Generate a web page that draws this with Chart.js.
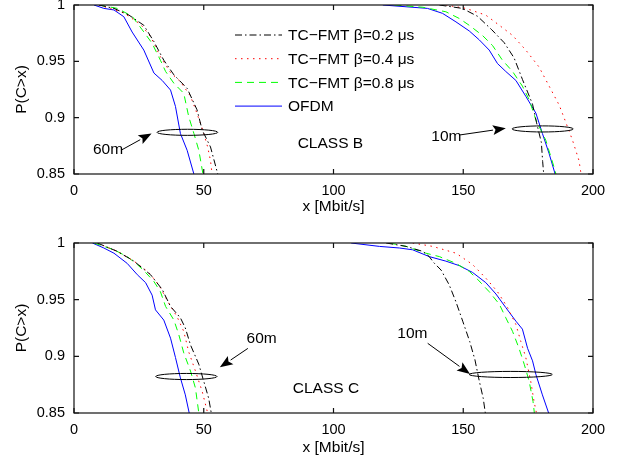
<!DOCTYPE html>
<html>
<head>
<meta charset="utf-8">
<script src="https://cdn.jsdelivr.net/npm/chart.js@4.4.1/dist/chart.umd.min.js"></script>
<style>
  html, body { margin: 0; padding: 0; background: #fff; }
  .panel { position: absolute; left: 0; width: 621px; }
  #top { top: 0; height: 216px; }
  #bot { top: 216px; height: 241px; }
</style>
</head>
<body>
<div class="panel" id="top"><canvas id="chartB"></canvas></div>
<div class="panel" id="bot"><canvas id="chartC"></canvas></div>
<script>
// ── Axis ticks and labels ─────────────────────────────────────────────────
const xTicks = [0, 50, 100, 150, 200];
const yTicks = [0.85, 0.9, 0.95, 1];
const xTitle = 'x [Mbit/s]';
const yTitle = 'P(C>x)';
const seriesLabels = ['TC\u2212FMT \u03b2=0.2 \u03bcs', 'TC\u2212FMT \u03b2=0.4 \u03bcs', 'TC\u2212FMT \u03b2=0.8 \u03bcs', 'OFDM'];

// ── CLASS B curves, [x, P(C>x)] ──────────────────────────────────────────
const b60Fmt02 = [[9.6,1],[15.4,0.997],[21.2,0.991],[26.9,0.982],[30.8,0.9675],[34.6,0.951],[38.5,0.938],[43.6,0.926],[47.4,0.907],[49.4,0.889],[52.6,0.874],[55.4,0.85]];
const b60Fmt04 = [[9.6,1],[19.2,0.993],[25.6,0.983],[29.5,0.972],[33.3,0.954],[37.2,0.94],[41,0.932],[44.9,0.919],[47.2,0.905],[49.6,0.889],[51.5,0.874],[52.6,0.862],[53.2,0.85]];
const b60Fmt08 = [[9.6,1],[16.7,0.997],[22.4,0.99],[26.3,0.978],[30.1,0.966],[33.3,0.951],[35.3,0.941],[38.5,0.9305],[42.3,0.9216],[44.2,0.901],[46.2,0.886],[48.1,0.871],[49.7,0.85]];
const b60Ofdm  = [[7.7,1],[11.5,0.997],[15.4,0.9956],[19.2,0.9896],[22.4,0.976],[26.9,0.96],[30.8,0.9396],[34,0.933],[37.2,0.9245],[39.1,0.91],[41,0.886],[43.6,0.871],[46.2,0.85]];
const b10Fmt02 = [[140.8,1],[149.6,0.997],[155.5,0.99],[161,0.978],[165.8,0.9665],[169.6,0.953],[172.8,0.934],[176.7,0.912],[178.2,0.896],[180.1,0.878],[180.6,0.861],[181,0.85]];
const b10Fmt04 = [[143.3,1],[151,0.997],[158.7,0.991],[163.9,0.982],[169,0.973],[174.1,0.96],[179.2,0.945],[183.1,0.928],[187,0.911],[189.5,0.896],[192.1,0.88],[194.6,0.862],[195.4,0.85]];
const b10Fmt08 = [[123.5,1],[134.4,0.998],[143.3,0.994],[148.5,0.988],[152.3,0.982],[157.4,0.973],[161.3,0.964],[165.1,0.951],[169,0.941],[172.8,0.928],[175.4,0.916],[178,0.898],[181.8,0.88],[185.4,0.853],[185.7,0.85]];
const b10Ofdm  = [[119,1],[136.2,0.997],[142,0.9926],[147.2,0.985],[152.3,0.977],[156.2,0.969],[160,0.96],[163.2,0.948],[166.4,0.941],[170.3,0.933],[174.1,0.919],[178,0.904],[180.5,0.886],[183.1,0.868],[185.4,0.85]];

// ── CLASS C curves ────────────────────────────────────────────────────────
const c60Fmt02 = [[9,1],[16.7,0.9926],[23.1,0.984],[29.5,0.972],[34,0.959],[37.2,0.944],[41,0.934],[42.9,0.925],[44.9,0.91],[48.1,0.893],[50,0.878],[51.9,0.863],[52.9,0.85]];
const c60Fmt04 = [[9,1],[16.7,0.9926],[23.1,0.984],[28.8,0.974],[32.7,0.963],[36.5,0.947],[39.7,0.935],[42.3,0.922],[44.2,0.904],[46.8,0.887],[49.4,0.869],[51.5,0.85]];
const c60Fmt08 = [[7.7,1],[15.4,0.994],[20.5,0.988],[24.4,0.981],[27.6,0.974],[30.8,0.966],[33.3,0.957],[35.3,0.944],[38.5,0.932],[40.4,0.919],[42.3,0.903],[44.9,0.887],[46.8,0.872],[48.1,0.85]];
const c60Ofdm  = [[7.1,1],[11.5,0.9956],[15.4,0.991],[20.5,0.982],[24.4,0.972],[27.6,0.965],[30.1,0.954],[31.4,0.941],[34.6,0.932],[37.2,0.916],[39.1,0.899],[41,0.881],[42.9,0.866],[44.4,0.85]];
const c10Fmt02 = [[120.3,1],[128,0.997],[134.4,0.9926],[136.9,0.988],[138.5,0.983],[141.5,0.976],[144.6,0.963],[147.2,0.948],[149.8,0.931],[152.5,0.913],[154.5,0.897],[156.2,0.878],[157.7,0.863],[158.5,0.85]];
const c10Fmt04 = [[130.5,1],[138.2,0.997],[147.2,0.991],[153.6,0.981],[158.7,0.969],[163.2,0.957],[167.1,0.943],[170.3,0.928],[172.2,0.913],[174.1,0.899],[176,0.878],[177.3,0.86],[178.2,0.85]];
const c10Fmt08 = [[121.5,1],[128,0.997],[135.6,0.991],[140.8,0.988],[147.2,0.982],[152.3,0.975],[155.5,0.968],[160,0.957],[163.9,0.946],[166.4,0.934],[169,0.922],[171.5,0.907],[173.5,0.893],[175.4,0.878],[176.9,0.86],[177.4,0.85]];
const c10Ofdm  = [[106.8,1],[117.7,0.997],[125.4,0.9956],[130.5,0.994],[136.9,0.988],[143.3,0.984],[148.5,0.98],[153.6,0.974],[158.7,0.965],[162.6,0.955],[166.4,0.943],[170.3,0.931],[172.8,0.924],[174.8,0.907],[176.7,0.896],[178,0.884],[180.5,0.866],[182.9,0.85]];

// ── Annotations in data units: ellipse [cx, cy, rx, ry], arrow [x0, y0, x1, y1], text [label, x, y]
const ellipsesB = [[43.7, 0.887, 11.7, 0.0027], [180.6, 0.890, 11.8, 0.0027]];
const arrowsB   = [[18.3, 0.8713, 29.9, 0.886], [148.5, 0.8846, 166.4, 0.8906]];
const textsB    = [['60m', 13.1, 0.8713], ['10m', 143.5, 0.883], ['CLASS B', 98.8, 0.8766]];
const ellipsesC = [[43.3, 0.8822, 11.8, 0.0027], [168.3, 0.884, 16, 0.0027]];
const arrowsC   = [[67, 0.907, 56.2, 0.8903], [136.3, 0.9115, 152.6, 0.8844]];
const textsC    = [['60m', 72.3, 0.9153], ['10m', 130.4, 0.9197], ['CLASS C', 97.1, 0.8712]];

const FONT = "'Liberation Sans', Arial, Helvetica, sans-serif";
const TEXT_SIZE = 15.5;
Chart.defaults.font.family = FONT;
Chart.defaults.font.size = 14.5;
Chart.defaults.color = '#000';

// MATLAB-ish line styles: -. : -- -
const STYLES = [
  { color: '#000000', dash: [7, 3, 1.5, 3] },
  { color: '#ff0000', dash: [1.5, 4.5] },
  { color: '#00ff00', dash: [7, 5] },
  { color: '#0000ff', dash: [] },
];

// ── Box + inward ticks on all four sides ──────────────────────────────────
const axesBox = {
  id: 'axesBox',
  afterDatasetsDraw(chart) {
    const { ctx, chartArea: a, scales: { x, y } } = chart;
    const len = 5;
    ctx.save();
    ctx.strokeStyle = '#111';
    ctx.lineWidth = 1.2;
    ctx.strokeRect(a.left, a.top, a.right - a.left, a.bottom - a.top);
    ctx.beginPath();
    xTicks.forEach(v => {
      const px = x.getPixelForValue(v);
      ctx.moveTo(px, a.bottom); ctx.lineTo(px, a.bottom - len);
      ctx.moveTo(px, a.top);    ctx.lineTo(px, a.top + len);
    });
    yTicks.forEach(v => {
      const py = y.getPixelForValue(v);
      ctx.moveTo(a.left, py);  ctx.lineTo(a.left + len, py);
      ctx.moveTo(a.right, py); ctx.lineTo(a.right - len, py);
    });
    ctx.stroke();
    ctx.restore();
  },
};

// ── Ellipses, arrows, labels, and the in-plot legend ──────────────────────
const notes = {
  id: 'notes',
  afterDraw(chart, args, opts) {
    const { ctx, chartArea: a, scales: { x, y } } = chart;
    ctx.save();
    ctx.strokeStyle = '#000';
    ctx.fillStyle = '#000';
    ctx.lineWidth = 1;

    (opts.ellipses || []).forEach(([cx, cy, rx, ry]) => {
      const px = x.getPixelForValue(cx), py = y.getPixelForValue(cy);
      const rpx = Math.abs(x.getPixelForValue(cx + rx) - px);
      const rpy = Math.abs(y.getPixelForValue(cy + ry) - py);
      ctx.beginPath();
      ctx.ellipse(px, py, rpx, rpy, 0, 0, Math.PI * 2);
      ctx.stroke();
    });

    (opts.arrows || []).forEach(([x0, y0, x1, y1]) => {
      const ax = x.getPixelForValue(x0), ay = y.getPixelForValue(y0);
      const bx = x.getPixelForValue(x1), by = y.getPixelForValue(y1);
      const ang = Math.atan2(by - ay, bx - ax);
      const c = Math.cos(ang), s = Math.sin(ang);
      const hl = 13, hw = 5;
      ctx.beginPath();
      ctx.moveTo(ax, ay);
      ctx.lineTo(bx - hl * c, by - hl * s);
      ctx.stroke();
      ctx.beginPath();
      ctx.moveTo(bx, by);
      ctx.lineTo(bx - hl * c + hw * s, by - hl * s - hw * c);
      ctx.lineTo(bx - hl * 0.8 * c, by - hl * 0.8 * s);
      ctx.lineTo(bx - hl * c - hw * s, by - hl * s + hw * c);
      ctx.closePath();
      ctx.fill();
    });

    ctx.font = TEXT_SIZE + 'px ' + FONT;
    ctx.textAlign = 'center';
    ctx.textBaseline = 'middle';
    (opts.texts || []).forEach(([t, tx, ty]) => {
      ctx.fillText(t, x.getPixelForValue(tx), y.getPixelForValue(ty));
    });

    if (opts.legend) {
      const lx = a.left + 161, ly = a.top + 30, step = 23.7;
      chart.data.datasets.slice(0, 4).forEach((ds, i) => {
        const yy = ly + i * step;
        ctx.save();
        ctx.strokeStyle = ds.borderColor;
        ctx.lineWidth = 1;
        ctx.setLineDash(ds.borderDash);
        ctx.beginPath();
        ctx.moveTo(lx, yy); ctx.lineTo(lx + 47, yy);
        ctx.stroke();
        ctx.restore();
        ctx.textAlign = 'left';
        ctx.fillText(ds.label, lx + 53, yy + 1);
      });
    }
    ctx.restore();
  },
};

function makeChart(id, curves, ellipses, arrows, texts, legend, padTop, xAxisHeight) {
  const datasets = curves.map((pts, i) => ({
    label: seriesLabels[i % 4],
    data: pts.map(([x, y]) => ({ x, y })),
    borderColor: STYLES[i % 4].color,
    borderDash: STYLES[i % 4].dash,
    borderWidth: 1,
    pointRadius: 0,
    tension: 0,
    fill: false,
  }));
  return new Chart(document.getElementById(id), {
    type: 'line',
    data: { datasets },
    plugins: [axesBox, notes],
    options: {
      responsive: true,
      maintainAspectRatio: false,
      animation: false,
      layout: { padding: { top: padTop, right: 28, left: 0, bottom: 0 } },
      plugins: {
        legend: { display: false },
        tooltip: { enabled: false },
        notes: { ellipses, arrows, texts, legend },
      },
      scales: {
        x: {
          type: 'linear',
          min: 0, max: 200,
          afterBuildTicks: s => { s.ticks = xTicks.map(v => ({ value: v })); },
          afterFit: s => { s.height = xAxisHeight; s.paddingLeft = 0; s.paddingRight = 0; },
          grid: { display: false, drawTicks: false },
          border: { display: false },
          ticks: { padding: 8, maxRotation: 0, autoSkip: false, callback: v => String(v) },
          title: { display: true, text: xTitle, font: { size: TEXT_SIZE }, padding: { top: 0, bottom: 0 } },
        },
        y: {
          min: 0.85, max: 1,
          afterBuildTicks: s => { s.ticks = yTicks.map(v => ({ value: v })); },
          afterFit: s => { s.width = 74; s.paddingTop = 0; s.paddingBottom = 0; },
          grid: { display: false, drawTicks: false },
          border: { display: false },
          ticks: { padding: 9, autoSkip: false, callback: v => String(v) },
          title: { display: true, text: yTitle, font: { size: TEXT_SIZE }, padding: { top: 12.5, bottom: 0 } },
        },
      },
    },
  });
}

makeChart('chartB',
  [b60Fmt02, b60Fmt04, b60Fmt08, b60Ofdm, b10Fmt02, b10Fmt04, b10Fmt08, b10Ofdm],
  ellipsesB, arrowsB, textsB, true, 5, 42);
makeChart('chartC',
  [c60Fmt02, c60Fmt04, c60Fmt08, c60Ofdm, c10Fmt02, c10Fmt04, c10Fmt08, c10Ofdm],
  ellipsesC, arrowsC, textsC, false, 27, 44);
</script>
</body>
</html>
